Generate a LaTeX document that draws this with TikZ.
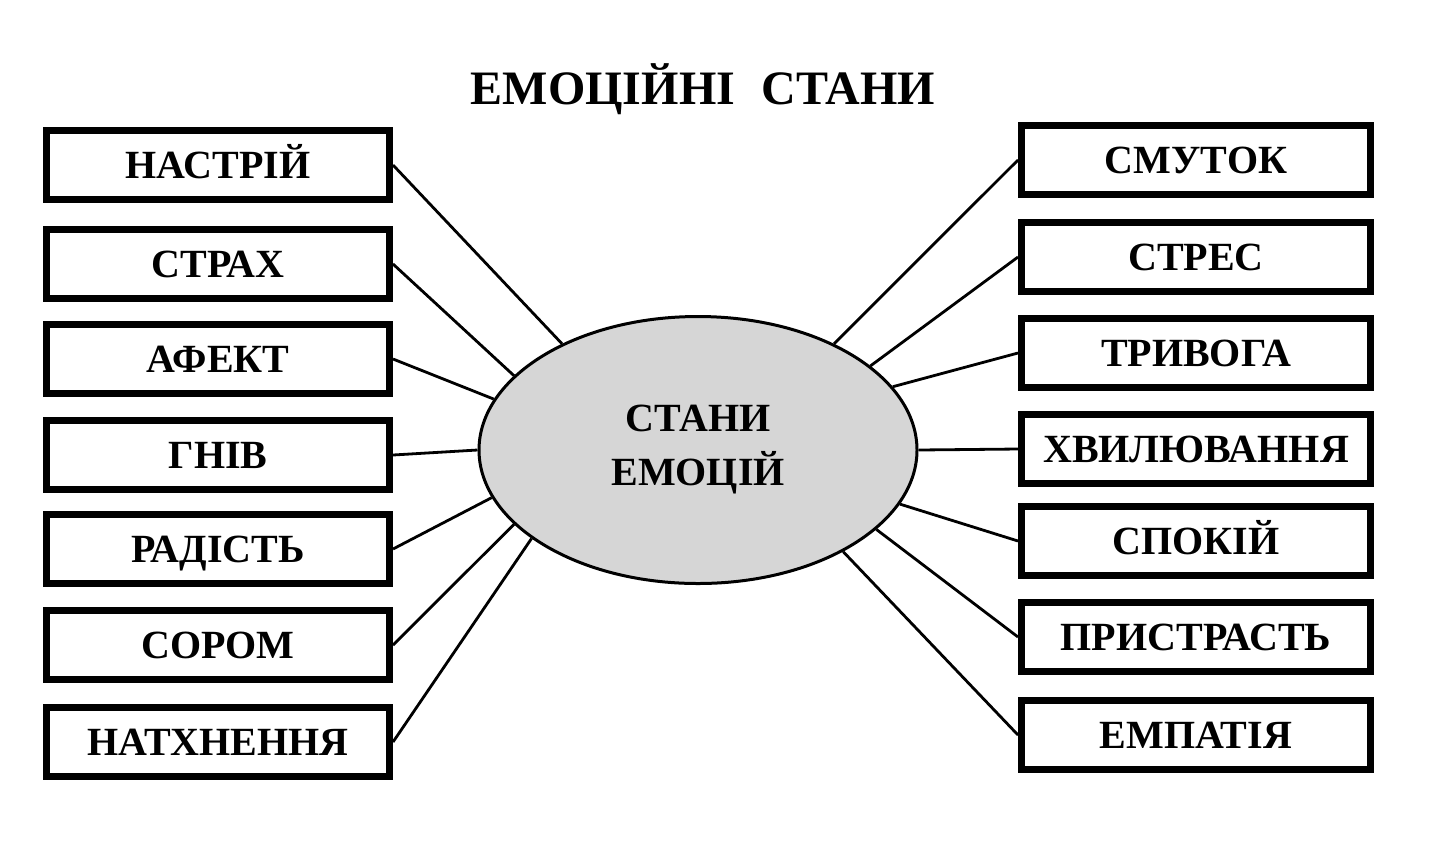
\documentclass[tikz,border=0pt]{standalone}
\usepackage{fontspec}
\setmainfont{Liberation Serif}
\usetikzlibrary{shapes.geometric}

\definecolor{ellgray}{gray}{0.84}

\tikzset{
    statebox/.style={draw=black, line width=3.5pt, fill=white, minimum width=171.5pt, minimum height=34.5pt, inner sep=0pt, text height=13pt, text depth=0pt, font=\fontsize{20}{22}\selectfont\bfseries},
    rstatebox/.style={statebox, minimum width=174.5pt},
    core/.style={ellipse, draw=black, line width=1.5pt, fill=ellgray, minimum width=219pt, minimum height=133.5pt, inner sep=0pt, align=center, font=\fontsize{20}{27}\selectfont\bfseries},
    link/.style={line width=1.4pt},
}

\begin{document}
\begin{tikzpicture}[x=0.5pt, y=-0.5pt]
    \useasboundingbox (0,0) rectangle (1444,848);
    \node[anchor=base, font=\fontsize{24}{30}\selectfont\bfseries] (title) at (703,104) {ЕМОЦІЙНІ\hspace{0.3em} СТАНИ};
    % centre
    \node[core] (stany) at (698,450) {СТАНИ\\ЕМОЦІЙ};
    % left column
    \node[statebox] (nastrii) at (218,165) {НАСТРІЙ};
    \node[statebox] (strakh) at (218,264) {СТРАХ};
    \node[statebox] (afekt) at (218,359) {АФЕКТ};
    \node[statebox] (gniv) at (218,455) {ГНІВ};
    \node[statebox] (radist) at (218,549) {РАДІСТЬ};
    \node[statebox] (sorom) at (218,645) {СОРОМ};
    \node[statebox] (natkhnennia) at (218,742) {НАТХНЕННЯ};
    % right column
    \node[rstatebox] (smutok) at (1196,160) {СМУТОК};
    \node[rstatebox] (stres) at (1196,257) {СТРЕС};
    \node[rstatebox] (tryvoha) at (1196,353) {ТРИВОГА};
    \node[rstatebox] (khvyliuvannia) at (1196,449) {ХВИЛЮВАННЯ};
    \node[rstatebox] (spokii) at (1196,541) {СПОКІЙ};
    \node[rstatebox] (prystrast) at (1196,637) {ПРИСТРАСТЬ};
    \node[rstatebox] (empatiia) at (1196,735) {ЕМПАТІЯ};
    % rays
    \draw[link] (nastrii.east) -- (stany.142);
    \draw[link] (strakh.east) -- (stany.158);
    \draw[link] (afekt.east) -- (stany.166);
    \draw[link] (gniv.east) -- (stany.180);
    \draw[link] (radist.east) -- (stany.193);
    \draw[link] (sorom.east) -- (stany.202);
    \draw[link] (natkhnennia.east) -- (stany.208);
    \draw[link] (smutok.west) -- (stany.38);
    \draw[link] (stres.west) -- (stany.26);
    \draw[link] (tryvoha.west) -- (stany.18);
    \draw[link] (khvyliuvannia.west) -- (stany.0);
    \draw[link] (spokii.west) -- (stany.345);
    \draw[link] (prystrast.west) -- (stany.336);
    \draw[link] (empatiia.west) -- (stany.325);
\end{tikzpicture}
\end{document}
